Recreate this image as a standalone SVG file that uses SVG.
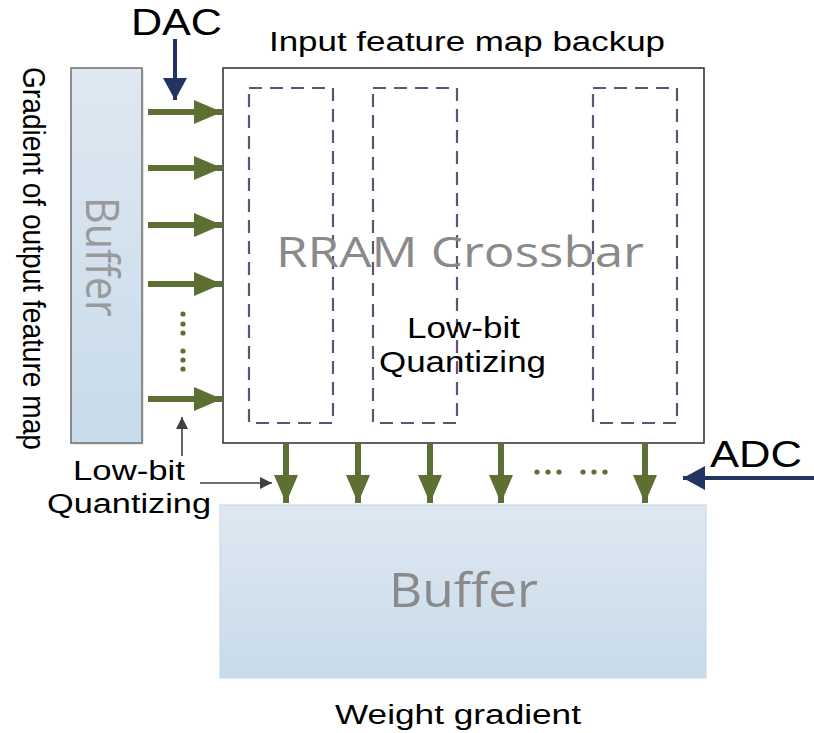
<svg xmlns="http://www.w3.org/2000/svg" width="814" height="733" viewBox="0 0 814 733">
  <defs>
    <linearGradient id="bufFill" x1="0" y1="0" x2="0" y2="1">
      <stop offset="0" stop-color="#dfe8f2"/>
      <stop offset="1" stop-color="#c8dbea"/>
    </linearGradient>
    <marker id="greenHeadH" viewBox="0 0 28 24" refX="28" refY="12" markerWidth="28" markerHeight="24" markerUnits="userSpaceOnUse" orient="auto">
      <path d="M0,0 L28,12 L0,24 Z" fill="#5e6f34"/>
    </marker>
    <marker id="navyHead" viewBox="0 0 22 24" refX="22" refY="12" markerWidth="22" markerHeight="24" markerUnits="userSpaceOnUse" orient="auto">
      <path d="M0,0 L22,12 L0,24 Z" fill="#243461"/>
    </marker>
    <marker id="grayHead" viewBox="0 0 12 12" refX="12" refY="6" markerWidth="12" markerHeight="12" markerUnits="userSpaceOnUse" orient="auto">
      <path d="M0,0 L12,6 L0,12 Z" fill="#404040"/>
    </marker>
  </defs>
  <style>
    .label { font-family: "Liberation Sans", Arial, sans-serif; fill: #000; }
    .ghost { font-family: "Open Sans", "Noto Sans", sans-serif; fill: #8a8a8a; }
    .green { stroke: #5e6f34; stroke-width: 6; fill: none; marker-end: url(#greenHeadH); }
    .navy { stroke: #243461; stroke-width: 4; fill: none; marker-end: url(#navyHead); }
    .thin { stroke: #404040; stroke-width: 1.6; fill: none; marker-end: url(#grayHead); }
    .column { fill: none; stroke: #5e5575; stroke-width: 2.2; stroke-dasharray: 13 8; }
    .dot { fill: #5e6f34; }
  </style>

  <rect width="814" height="733" fill="#ffffff"/>

  <!-- side label -->
  <text class="label" font-size="32" transform="translate(23,67) rotate(90)" textLength="383" lengthAdjust="spacingAndGlyphs">Gradient of output feature map</text>

  <!-- input buffer (left) -->
  <g id="input-buffer">
    <rect x="73" y="70" width="71" height="375" fill="#e6e6e6"/>
    <rect x="71" y="68" width="71" height="375" fill="url(#bufFill)" stroke="#6e6e6e" stroke-width="1.5"/>
    <text class="ghost" style="fill:#9a9a9a" font-size="46" transform="translate(86,197) rotate(90)" textLength="120" lengthAdjust="spacingAndGlyphs">Buffer</text>
  </g>

  <!-- RRAM crossbar -->
  <g id="crossbar">
    <rect x="223" y="68" width="481" height="375" fill="#ffffff" stroke="#2b2b2b" stroke-width="1.5"/>
    <rect class="column" x="249" y="88" width="84" height="335"/>
    <rect class="column" x="373" y="88" width="84" height="335"/>
    <rect class="column" x="593" y="88" width="84" height="335"/>
    <text class="ghost" font-size="42" x="276" y="267" textLength="368" lengthAdjust="spacingAndGlyphs">RRAM Crossbar</text>
    <text class="label" font-size="29" x="407" y="338" textLength="113" lengthAdjust="spacingAndGlyphs">Low-bit</text>
    <text class="label" font-size="29" x="379" y="372" textLength="167" lengthAdjust="spacingAndGlyphs">Quantizing</text>
  </g>

  <!-- output buffer (bottom) -->
  <g id="output-buffer">
    <rect x="220" y="505" width="486" height="173" fill="url(#bufFill)" stroke="#c4d6e7" stroke-width="1"/>
    <text class="ghost" font-size="48" x="389" y="607" textLength="149" lengthAdjust="spacingAndGlyphs">Buffer</text>
  </g>

  <!-- titles -->
  <g id="dac">
    <text class="label" font-size="36" x="131" y="35" textLength="91" lengthAdjust="spacingAndGlyphs">DAC</text>
  </g>
  <g id="adc">
    <text class="label" font-size="36" x="710" y="467" textLength="92" lengthAdjust="spacingAndGlyphs">ADC</text>
  </g>
  <g id="backup-label">
    <text class="label" font-size="27" x="269" y="51" textLength="396" lengthAdjust="spacingAndGlyphs">Input feature map backup</text>
  </g>
  <g id="quant-label">
    <text class="label" font-size="27" x="73" y="480" textLength="112" lengthAdjust="spacingAndGlyphs">Low-bit</text>
    <text class="label" font-size="27" x="47" y="513" textLength="164" lengthAdjust="spacingAndGlyphs">Quantizing</text>
  </g>
  <g id="weight-label">
    <text class="label" font-size="27" x="335" y="724" textLength="246" lengthAdjust="spacingAndGlyphs">Weight gradient</text>
  </g>

  <!-- connectors -->
  <g id="connectors">
    <!-- row inputs -->
    <line class="green" x1="148" y1="112" x2="222" y2="112"/>
    <line class="green" x1="148" y1="168" x2="222" y2="168"/>
    <line class="green" x1="148" y1="225" x2="222" y2="225"/>
    <line class="green" x1="148" y1="284" x2="222" y2="284"/>
    <line class="green" x1="148" y1="399" x2="222" y2="399"/>
    <circle class="dot" cx="183" cy="314" r="2.6"/>
    <circle class="dot" cx="183" cy="324" r="2.6"/>
    <circle class="dot" cx="183" cy="333" r="2.6"/>
    <circle class="dot" cx="183" cy="351" r="2.6"/>
    <circle class="dot" cx="183" cy="360" r="2.6"/>
    <circle class="dot" cx="183" cy="369" r="2.6"/>

    <!-- column outputs -->
    <line class="green" x1="286" y1="443" x2="286" y2="503"/>
    <line class="green" x1="358" y1="443" x2="358" y2="503"/>
    <line class="green" x1="430" y1="443" x2="430" y2="503"/>
    <line class="green" x1="501" y1="443" x2="501" y2="503"/>
    <line class="green" x1="645" y1="443" x2="645" y2="503"/>
    <circle class="dot" cx="537" cy="472" r="2.6"/>
    <circle class="dot" cx="548" cy="472" r="2.6"/>
    <circle class="dot" cx="559" cy="472" r="2.6"/>
    <circle class="dot" cx="583" cy="472" r="2.6"/>
    <circle class="dot" cx="594" cy="472" r="2.6"/>
    <circle class="dot" cx="605" cy="472" r="2.6"/>

    <!-- converters -->
    <line class="navy" x1="175" y1="39" x2="175" y2="100"/>
    <line class="navy" x1="814" y1="478" x2="683" y2="478"/>

    <!-- quantizing pointers -->
    <line class="thin" x1="182" y1="456" x2="182" y2="417"/>
    <line class="thin" x1="200" y1="483" x2="272" y2="483"/>
  </g>
</svg>
